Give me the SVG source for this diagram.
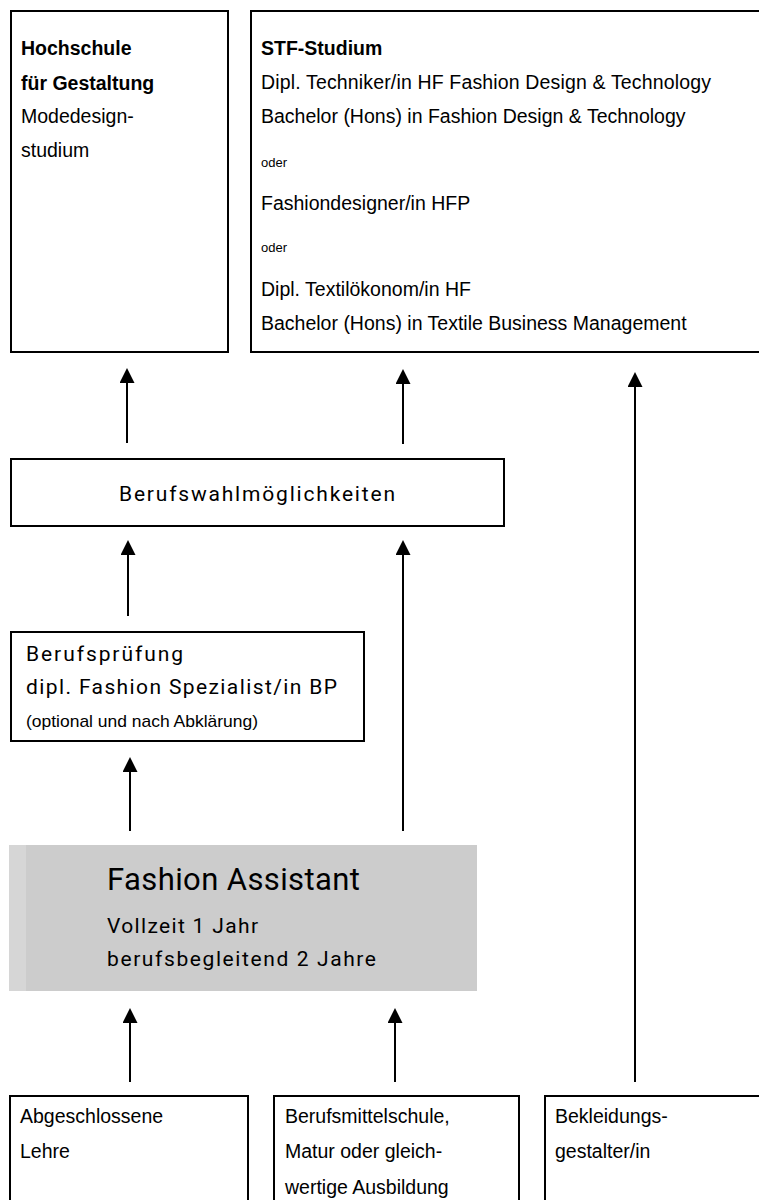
<svg xmlns="http://www.w3.org/2000/svg" width="759" height="1200" viewBox="0 0 759 1200">
<style>
.box{fill:#fff;stroke:#000;stroke-width:2}
.a{font-family:"Liberation Sans",Arial,sans-serif;font-size:19.5px;fill:#000}
.b{font-weight:bold}
.s{font-size:13px}
.o{font-size:17px}
.d{font-family:Roboto,"DejaVu Sans",sans-serif;fill:#000;font-size:21px;font-weight:400}
.big{font-size:31px}
.con line{stroke:#000;stroke-width:2;marker-end:url(#ah)}
</style>
<defs>
<marker id="ah" markerUnits="userSpaceOnUse" markerWidth="16" markerHeight="16" refX="5" refY="7.5" orient="auto" viewBox="0 0 16 16">
<path d="M0,0 L15,7.5 L0,15 z" fill="#000"/>
</marker>
</defs>
<rect width="759" height="1200" fill="#fff"/>
<g id="hochschule">
<rect class="box" x="11" y="11" width="217" height="341"/>
<text class="a b" x="21" y="55">Hochschule</text>
<text class="a b" x="21" y="90">für Gestaltung</text>
<text class="a" x="21" y="123">Modedesign-</text>
<text class="a" x="21" y="157">studium</text>
</g>
<g id="stf">
<rect class="box" x="251" y="11" width="520" height="341"/>
<text class="a b" x="261" y="55">STF-Studium</text>
<text class="a" x="261" y="89" textLength="450">Dipl. Techniker/in HF Fashion Design &amp; Technology</text>
<text class="a" x="261" y="123">Bachelor (Hons) in Fashion Design &amp; Technology</text>
<text class="a s" x="261" y="167">oder</text>
<text class="a" x="261" y="210">Fashiondesigner/in HFP</text>
<text class="a s" x="261" y="252">oder</text>
<text class="a" x="261" y="296">Dipl. Textilökonom/in HF</text>
<text class="a" x="261" y="330">Bachelor (Hons) in Textile Business Management</text>
</g>
<g id="berufswahl">
<rect class="box" x="11" y="459" width="493" height="67"/>
<text class="d" x="119" y="501" textLength="276" lengthAdjust="spacing">Berufswahlmöglichkeiten</text>
</g>
<g id="berufspruefung">
<rect class="box" x="11" y="632" width="353" height="109"/>
<text class="d" x="26" y="661" textLength="157" lengthAdjust="spacing">Berufsprüfung</text>
<text class="d" x="26" y="694" textLength="311" lengthAdjust="spacing">dipl. Fashion Spezialist/in BP</text>
<text class="a o" x="26" y="727" textLength="232" lengthAdjust="spacingAndGlyphs">(optional und nach Abklärung)</text>
</g>
<g id="fashion-assistant">
<rect x="9" y="845" width="17" height="146" fill="#d6d6d6"/>
<rect x="26" y="845" width="451" height="146" fill="#cccccc"/>
<text class="d big" x="107" y="890" textLength="253" lengthAdjust="spacing">Fashion Assistant</text>
<text class="d" x="107" y="933" textLength="151" lengthAdjust="spacing">Vollzeit 1 Jahr</text>
<text class="d" x="107" y="966" textLength="269" lengthAdjust="spacing">berufsbegleitend 2 Jahre</text>
</g>
<g id="lehre">
<rect class="box" x="10" y="1096" width="238" height="120"/>
<text class="a" x="20" y="1123">Abgeschlossene</text>
<text class="a" x="20" y="1158">Lehre</text>
</g>
<g id="bms">
<rect class="box" x="274" y="1096" width="245" height="120"/>
<text class="a" x="285" y="1123">Berufsmittelschule,</text>
<text class="a" x="285" y="1158">Matur oder gleich-</text>
<text class="a" x="285" y="1194">wertige Ausbildung</text>
</g>
<g id="bekleidung">
<rect class="box" x="545" y="1096" width="230" height="120"/>
<text class="a" x="555" y="1123">Bekleidungs-</text>
<text class="a" x="555" y="1158">gestalter/in</text>
</g>
<g id="connectors" class="con">
<line x1="127" y1="443" x2="127" y2="378"/>
<line x1="403" y1="444" x2="403" y2="379"/>
<line x1="635" y1="1082" x2="635" y2="382"/>
<line x1="128" y1="616" x2="128" y2="550"/>
<line x1="403" y1="831" x2="403" y2="550"/>
<line x1="130" y1="831" x2="130" y2="767"/>
<line x1="130" y1="1082" x2="130" y2="1018"/>
<line x1="395" y1="1082" x2="395" y2="1018"/>
</g>
</svg>
